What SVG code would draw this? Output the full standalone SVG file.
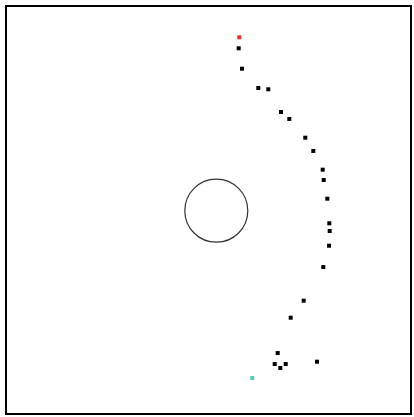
<svg xmlns="http://www.w3.org/2000/svg" width="414" height="417" viewBox="0 0 414 417">
<style>
.d{fill:#000}
</style>
<rect width="414" height="417" fill="#fff"/>
<rect id="frame" x="6" y="6" width="405" height="408" fill="none" stroke="#000" stroke-width="2"/>
<g id="circle"><circle cx="216.3" cy="210.7" r="31.5" fill="none" stroke="#333" stroke-width="1.2"/></g>
<g id="points">
<rect x="237.3" y="35.3" width="4" height="4" fill="#e0302a"/>
<rect class="d" x="236.7" y="46.3" width="4" height="4"/>
<rect class="d" x="240" y="66.7" width="4" height="4"/>
<rect class="d" x="256.3" y="86" width="4" height="4"/>
<rect class="d" x="266.3" y="87.3" width="4" height="4"/>
<rect class="d" x="279" y="110" width="4" height="4"/>
<rect class="d" x="287.3" y="117" width="4" height="4"/>
<rect class="d" x="303.3" y="135.7" width="4" height="4"/>
<rect class="d" x="311.3" y="149" width="4" height="4"/>
<rect class="d" x="320.7" y="167.7" width="4" height="4"/>
<rect class="d" x="321.7" y="178" width="4" height="4"/>
<rect class="d" x="325.3" y="196.7" width="4" height="4"/>
<rect class="d" x="327.3" y="221.3" width="4" height="4"/>
<rect class="d" x="327.7" y="229" width="4" height="4"/>
<rect class="d" x="327" y="243.7" width="4" height="4"/>
<rect class="d" x="321.3" y="265" width="4" height="4"/>
<rect class="d" x="301.7" y="298.7" width="4" height="4"/>
<rect class="d" x="288.7" y="315.7" width="4" height="4"/>
<rect class="d" x="275.7" y="351" width="4" height="4"/>
<rect class="d" x="272.7" y="362" width="4" height="4"/>
<rect class="d" x="278.3" y="366" width="4" height="4"/>
<rect class="d" x="283.7" y="362" width="4" height="4"/>
<rect class="d" x="315" y="359.7" width="4" height="4"/>
<rect x="250.3" y="376" width="4" height="4" fill="#5cc8c0"/>
</g>
</svg>
